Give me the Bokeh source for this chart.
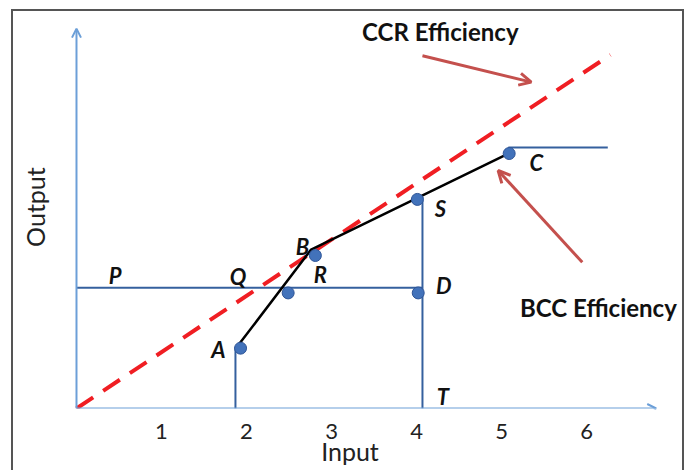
import math
from bokeh.plotting import figure
from bokeh.models import Arrow, OpenHead, FixedTicker
from bokeh.embed import file_html
from bokeh.resources import INLINE
from bokeh.core.properties import value

# ---------------- data ----------------
x_ticks = [1, 2, 3, 4, 5, 6]

# BCC (variable returns) frontier A - B - C
frontier_x = [1.90, 2.76, 5.08]
frontier_y = [0.74, 1.87, 3.00]

# CCR (constant returns) ray from the origin
ccr_x = [0.0, 6.28]
ccr_y = [0.0, 4.16]

# observed units / projection points
dot_names = ["A", "R", "B", "D", "S", "C"]
dot_x = [1.93, 2.49, 2.81, 4.02, 4.01, 5.09]
dot_y = [0.71, 1.36, 1.80, 1.36, 2.46, 3.00]

# guide lines
pd_x = [0.0, 4.07]
pd_y = [1.42, 1.42]
ts_x = [4.07, 4.07]
ts_y = [0.0, 2.49]
a_drop_x = [1.87, 1.87]
a_drop_y = [0.0, 0.72]
c_flat_x = [5.08, 6.25]
c_flat_y = [3.07, 3.07]

# point letters
letters = ["P", "Q", "R", "B", "A", "D", "S", "C", "T"]
letter_x = [0.455, 1.90, 2.87, 2.66, 1.67, 4.32, 4.28, 5.41, 4.31]
letter_y = [1.565, 1.55, 1.58, 1.91, 0.69, 1.45, 2.35, 2.90, 0.14]

# annotation texts
note_text = ["CCR Efficiency", "BCC Efficiency"]
note_x = [4.28, 6.14]
note_y = [4.43, 1.19]

# pointer arrows (tail -> head)
arrow_x0 = [4.07, 5.95]
arrow_y0 = [4.15, 1.72]
arrow_x1 = [5.35, 4.96]
arrow_y1 = [3.84, 2.80]

# axis extents
x_axis_end = 6.82
y_axis_end = 4.47

AXIS_BLUE = "#6C9FD8"
LINE_BLUE = "#35609E"
DOT_BLUE = "#4272BA"
ARROW_RED = "#C4504D"
CCR_RED = "#F01E23"
FONT = "Lato"

p = figure(width=673, height=461, x_range=(-0.741, 7.176), y_range=(0, 4.671),
           output_backend="svg", toolbar_location=None,
           min_border=0, min_border_bottom=64)
p.grid.visible = False
p.outline_line_color = None
p.background_fill_color = "white"
p.border_fill_color = "white"
p.styles = {"margin-left": "11px", "margin-top": "9px",
            "border-left": "2px solid #555555",
            "border-top": "2px solid #555555",
            "border-right": "2px solid #555555"}

p.yaxis.visible = False

# x axis: tick labels and title
xa = p.xaxis[0]
xa.ticker = FixedTicker(ticks=x_ticks)
xa.axis_line_color = None
xa.major_tick_line_color = None
xa.minor_tick_line_color = None
xa.major_tick_out = 0
xa.major_tick_in = 0
xa.major_label_standoff = 15
xa.major_label_text_font = FONT
xa.major_label_text_font_size = "22px"
xa.major_label_text_color = "#222222"
xa.axis_label = "Input"
xa.axis_label_standoff = -6
xa.axis_label_text_font = FONT
xa.axis_label_text_font_size = "25px"
xa.axis_label_text_font_style = "normal"
xa.axis_label_text_color = "#222222"

# y axis title (drawn beside the arrow axis)
p.text(x=[-0.486], y=[2.37], text=["Output"], angle=math.pi / 2,
       text_font=value(FONT), text_font_size="25px", text_color="#222222",
       text_align="center", text_baseline="middle")

# axis arrows
p.add_layout(Arrow(end=OpenHead(size=9, line_color=AXIS_BLUE, line_width=2),
                   x_start=0, y_start=0, x_end=x_axis_end, y_end=0,
                   line_color=AXIS_BLUE, line_width=2))
p.add_layout(Arrow(end=OpenHead(size=9, line_color=AXIS_BLUE, line_width=2),
                   x_start=0, y_start=0, x_end=0, y_end=y_axis_end,
                   line_color=AXIS_BLUE, line_width=2))

# guide lines
for gx, gy in [(pd_x, pd_y), (ts_x, ts_y), (a_drop_x, a_drop_y), (c_flat_x, c_flat_y)]:
    p.line(gx, gy, line_color=LINE_BLUE, line_width=2)

# CCR dashed ray
p.line(ccr_x, ccr_y, line_color=CCR_RED, line_width=4, line_dash="20 12")

# BCC frontier
p.line(frontier_x, frontier_y, line_color="black", line_width=2.5)

# points
p.scatter(dot_x, dot_y, size=12, fill_color=DOT_BLUE, line_color="#2F5597", line_width=1)

# letters
p.text(x=letter_x, y=letter_y, text=letters, text_font=value(FONT),
       text_font_style="bold italic", text_font_size="22px",
       text_align="center", text_baseline="middle", text_color="#111111")

# notes
p.text(x=note_x, y=note_y, text=note_text, text_font=value(FONT),
       text_font_style="bold", text_font_size="24px",
       text_align="center", text_baseline="middle", text_color="#111111")

# pointer arrows
for i in range(len(arrow_x0)):
    p.add_layout(Arrow(end=OpenHead(size=12, line_color=ARROW_RED, line_width=3),
                       x_start=arrow_x0[i], y_start=arrow_y0[i],
                       x_end=arrow_x1[i], y_end=arrow_y1[i],
                       line_color=ARROW_RED, line_width=3))

open("out.html", "w").write(file_html(p, INLINE))
